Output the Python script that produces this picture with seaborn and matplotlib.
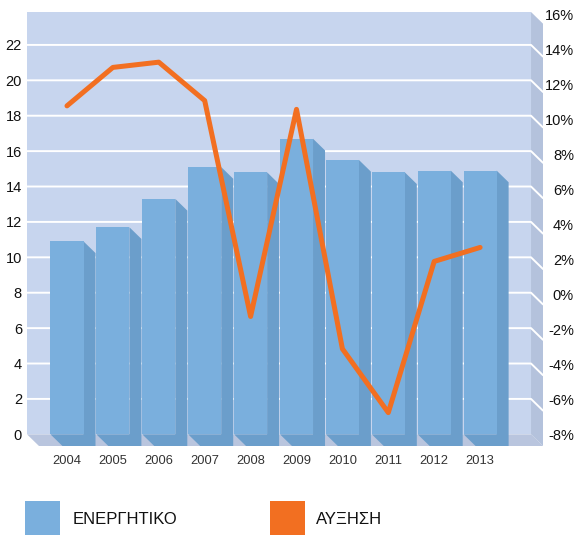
import numpy as np
import matplotlib
matplotlib.use("Agg")
import matplotlib.pyplot as plt
import seaborn as sns
from matplotlib.patches import Polygon, Rectangle

# data
years = ["2004", "2005", "2006", "2007", "2008", "2009", "2010", "2011", "2012", "2013"]
assets = [10.9, 11.7, 13.3, 15.1, 14.8, 16.7, 15.5, 14.8, 14.9, 14.9]
growth = [10.8, 13.0, 13.3, 11.1, -1.25, 10.6, -3.1, -6.75, 1.9, 2.7]
left_ticks = list(range(0, 24, 2))
right_ticks = list(range(-8, 18, 2))

BAR_FRONT = "#7aafdd"
BAR_SIDE = "#6b9ecb"
WALL = "#c7d5ee"
SIDE_WALL = "#b4c2dc"
FLOOR = "#b9c5de"
ORANGE = "#f26f21"

sns.set_theme(style="white")
plt.rcParams["font.family"] = ["Liberation Sans", "DejaVu Sans"]

W, H = 575, 536
fig = plt.figure(figsize=(W / 100, H / 100), dpi=100)
fig.patch.set_facecolor("white")
ax = fig.add_axes([27 / W, 90 / H, 516 / W, 434 / H])
ax.set_facecolor("none")

# fake 3d box: back wall, floor and right side wall
x0, x_wall, x1 = -0.871, 10.109, 10.370
y0, y_top = -0.66, 23.86
dx, dy = x1 - x_wall, -y0

ax.add_patch(Rectangle((x0, 0), x_wall - x0, y_top, fc=WALL, ec="none", zorder=0))
ax.add_patch(Polygon([(x0, 0), (x_wall, 0), (x1, -dy), (x0 + dx, -dy)],
                     fc=FLOOR, ec="none", zorder=0))
ax.add_patch(Polygon([(x_wall, 0), (x_wall, y_top), (x1, y_top - dy), (x1, -dy)],
                     fc=SIDE_WALL, ec="none", zorder=0))
for g in left_ticks[1:]:
    ax.plot([x0, x_wall, x1], [g, g, g - dy], color="white", lw=1.4, zorder=1)

sns.barplot(x=years, y=assets, color=BAR_FRONT, saturation=1, width=0.72,
            linewidth=0, ax=ax, zorder=3)

# darker side + bottom face of each column
for bar in ax.containers[0]:
    xl = bar.get_x()
    xr = xl + bar.get_width()
    h = bar.get_height()
    face = [(xr, h), (xr + dx, h - dy), (xr + dx, -dy), (xl + dx, -dy), (xl, 0), (xr, 0)]
    ax.add_patch(Polygon(face, fc=BAR_SIDE, ec="none", zorder=2.9))

ax.set_yticks(left_ticks)
ax.set_ylim(y0, y_top)
ax.tick_params(axis="y", length=0, pad=3.6, labelsize=10.5, labelcolor="#111111")
ax.tick_params(axis="x", length=0, pad=6.5, labelsize=9.3, labelcolor="#333333")
ax.set_xlabel("")
ax.set_ylabel("")
sns.despine(ax=ax, left=True, bottom=True)

ax2 = ax.twinx()
sns.lineplot(x=np.arange(len(years)), y=growth, ax=ax2, color=ORANGE, lw=3.6,
             solid_joinstyle="round", zorder=5)
ax2.set_ylim(-8.66, 16.17)
ax2.set_yticks(right_ticks)
ax2.set_yticklabels([f"{t}%" for t in right_ticks])
ax2.tick_params(axis="y", length=0, pad=22.3, labelsize=10.5, labelcolor="#111111")
for lab in ax2.get_yticklabels():
    lab.set_horizontalalignment("right")
ax2.set_ylabel("")
for s in ax2.spines.values():
    s.set_visible(False)
ax.set_xlim(x0, x1)

# legend at the bottom
fig.add_artist(Rectangle((25 / W, 1 / H), 35 / W, 34 / H, transform=fig.transFigure,
                         fc=BAR_FRONT, ec="none"))
fig.text(73 / W, (H - 519) / H, "ΕΝΕΡΓΗΤΙΚΟ", va="center", ha="left", fontsize=12,
         color="#111111")
fig.add_artist(Rectangle((270 / W, 1 / H), 35 / W, 34 / H, transform=fig.transFigure,
                         fc=ORANGE, ec="none"))
fig.text(316 / W, (H - 519) / H, "ΑΥΞΗΣΗ", va="center", ha="left", fontsize=12,
         color="#111111")

fig.savefig("out.png", dpi=100)
